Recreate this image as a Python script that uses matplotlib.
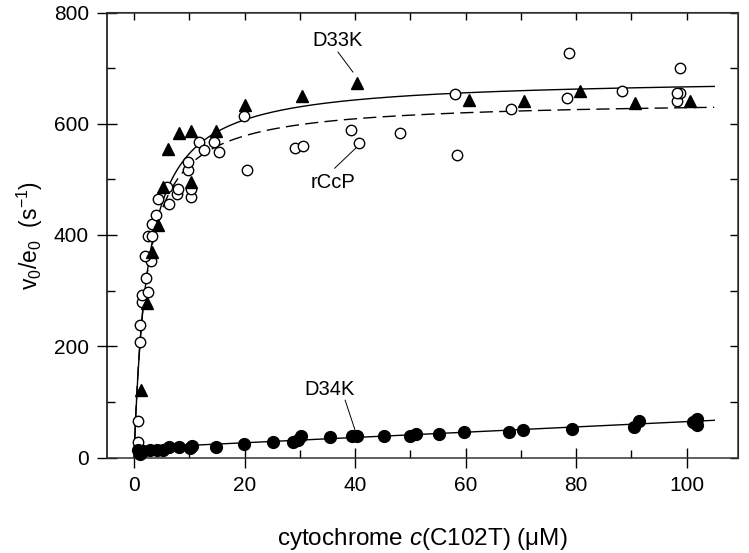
import numpy as np
import matplotlib
matplotlib.use("Agg")
import matplotlib.pyplot as plt
from matplotlib.ticker import MultipleLocator

plt.rcParams['font.family'] = ['Liberation Sans', 'DejaVu Sans']
plt.rcParams['mathtext.fontset'] = 'custom'
plt.rcParams['mathtext.rm'] = 'Liberation Sans'
plt.rcParams['mathtext.it'] = 'Liberation Sans:italic'

# D33K (filled triangles)
d33k_x = [1.3, 2.3, 3.2, 4.3, 5.2, 6.2, 8.2, 10.3, 10.3, 14.8, 20.1, 30.4, 40.4,
          60.6, 70.6, 80.7, 90.6, 100.7]
d33k_y = [122, 277, 370, 418, 487, 555, 583, 587, 496, 587, 633, 649, 674,
          643, 641, 659, 637, 641]

# rCcP (open circles)
rccp_x = [0.7, 0.7, 1.1, 1.1, 1.4, 1.5, 2.6, 2.2, 3.1, 1.9, 2.5, 3.2, 3.3, 4.0,
          4.3, 5.9, 6.4, 7.7, 7.9, 10.3, 10.3, 9.8, 9.8, 11.8, 12.7, 14.5, 15.4,
          19.9, 20.4, 29.1, 30.6, 39.2, 40.7, 48.1, 58.0, 58.4, 68.3, 78.4, 78.8,
          88.3, 98.3, 98.8, 98.8, 98.3]
rccp_y = [27, 66, 207, 239, 280, 292, 298, 323, 353, 363, 399, 399, 420, 436,
          465, 486, 455, 474, 482, 469, 482, 516, 532, 568, 552, 568, 550,
          614, 517, 556, 560, 589, 566, 583, 653, 543, 626, 647, 728,
          659, 641, 655, 701, 656]

# D34K (filled circles)
d34k_x = [0.8, 1.1, 1.7, 2.9, 4.1, 5.3, 6.3, 8.1, 10.1, 10.4, 14.8, 19.9, 25.1,
          28.8, 29.7, 30.3, 35.4, 39.4, 40.3, 45.3, 49.9, 51.1, 55.1, 59.7, 67.9,
          70.4, 79.2, 90.4, 91.3, 101.2, 101.8, 101.8]
d34k_y = [13, 6, 12, 13, 13, 13, 18, 19, 17, 21, 19, 25, 28,
          27, 31, 39, 37, 38, 38, 39, 39, 42, 42, 45, 46,
          49, 52, 54, 66, 64, 70, 58]

# fit parameters (Michaelis-Menten for D33K / rCcP, linear for D34K)
d33k_vmax, d33k_km = 683, 2.5
rccp_vmax, rccp_km = 643, 2.24
d34k_intercept, d34k_slope = 17, 0.475

fig = plt.figure(figsize=(7.49, 5.53), dpi=100)
ax = fig.add_axes([107/749, 1-457.5/553, (738-107)/749, (457.5-12.5)/553])

xf = np.linspace(0, 105, 600)
ax.plot(xf, d33k_vmax*xf/(d33k_km+xf), color='black', lw=1.0, zorder=2)
ax.plot(xf, rccp_vmax*xf/(rccp_km+xf), color='black', lw=1.0,
        dashes=(9.5, 4.5), zorder=2)
xl = np.linspace(0.6, 105, 50)
ax.plot(xl, d34k_intercept + d34k_slope*xl, color='black', lw=1.0, zorder=2)

ax.plot(rccp_x, rccp_y, 'o', ms=7.5, mfc='white', mec='black', mew=1.0,
        ls='none', zorder=3, clip_on=False)
ax.plot(d33k_x, d33k_y, '^', ms=8.5, mfc='black', mec='black',
        ls='none', zorder=4, clip_on=False)
ax.plot(d34k_x, d34k_y, 'o', ms=8.5, mfc='black', mec='black',
        ls='none', zorder=4, clip_on=False)

# annotations
ax.text(36.9, 750, 'D33K', ha='center', va='center', fontsize=14.5)
ax.plot([36.9, 39.6], [729, 693], color='black', lw=0.7)
ax.text(36.0, 495, 'rCcP', ha='center', va='center', fontsize=14.5)
ax.plot([36.3, 40.1], [520, 556], color='black', lw=0.7)
ax.text(35.4, 123, 'D34K', ha='center', va='center', fontsize=14.5)
ax.plot([38.2, 40.0], [103, 49], color='black', lw=0.7)

ax.set_xlim(-4.9, 109.3)
ax.set_ylim(0, 800)
ax.xaxis.set_major_locator(MultipleLocator(20))
ax.xaxis.set_minor_locator(MultipleLocator(10))
ax.yaxis.set_major_locator(MultipleLocator(200))
ax.yaxis.set_minor_locator(MultipleLocator(100))

for s in ax.spines.values():
    s.set_color('#333333')
    s.set_linewidth(1.1)
ax.spines['left'].set_color('black')

ax.tick_params(axis='both', which='major', direction='inout', length=14, width=1.0,
               labelsize=15, pad=6, colors='black')
ax.tick_params(axis='both', which='minor', direction='in', length=6, width=1.0)
ax.tick_params(axis='x', which='both', top=False)
ax.tick_params(axis='y', which='both', right=False)

# top and right inward ticks
axt = ax.secondary_xaxis('top')
axt.xaxis.set_major_locator(MultipleLocator(10))
axt.tick_params(direction='in', length=6, width=1.0, labeltop=False)
axt.spines['top'].set_color('#333333')
axr = ax.secondary_yaxis('right')
axr.yaxis.set_major_locator(MultipleLocator(100))
axr.tick_params(direction='in', length=6, width=1.0, labelright=False)

ax.set_xlabel(r'cytochrome $\mathit{c}$(C102T) (μM)', fontsize=17.5, labelpad=23)
ax.set_ylabel(r'v$_0$/e$_0$  (s$^{-1}$)', fontsize=16.5, labelpad=6)

fig.savefig('out.png', dpi=100)
